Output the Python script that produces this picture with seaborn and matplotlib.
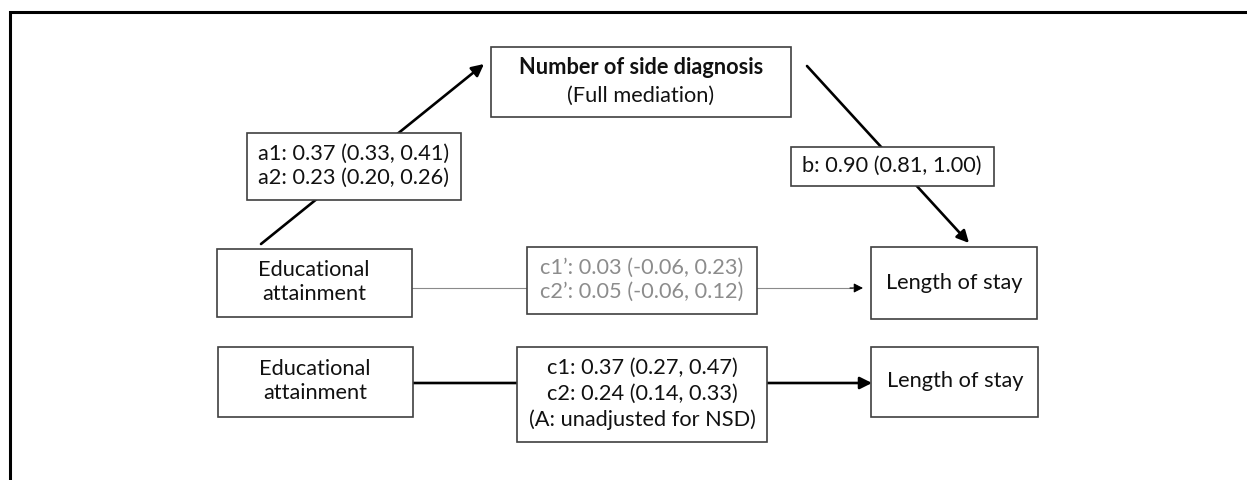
import matplotlib
matplotlib.use("Agg")
import matplotlib.pyplot as plt
from matplotlib.patches import Rectangle
import seaborn as sns

# === Данные диаграммы медиации ===
mediator_title = "Number of side diagnosis"
mediator_note = "(Full mediation)"
exposure_label = "Educational\nattainment"
outcome_label = "Length of stay"

# коэффициенты: (метка, оценка, нижняя граница, верхняя граница)
path_a = [("a1", 0.37, 0.33, 0.41), ("a2", 0.23, 0.20, 0.26)]
path_b = [("b", 0.90, 0.81, 1.00)]
path_c_direct = [("c1\u2019", 0.03, -0.06, 0.23), ("c2\u2019", 0.05, -0.06, 0.12)]
path_c_total = [("c1", 0.37, 0.27, 0.47), ("c2", 0.24, 0.14, 0.33)]
total_note = "(A: unadjusted for NSD)"


def fmt(rows):
    return "\n".join(f"{n}: {e:.2f} ({lo:.2f}, {hi:.2f})" for n, e, lo, hi in rows)


sns.set_theme(style="white")
plt.rcParams['font.family'] = ['Lato', 'DejaVu Sans']

fig = plt.figure(figsize=(12.47, 4.8), dpi=100)
ax = fig.add_axes([0, 0, 1, 1])
ax.set_xlim(0, 1247)
ax.set_ylim(480, 0)
ax.axis('off')

FS = 15.7
EDGE = '#404040'
TXT = '#111111'


def box(x0, y0, x1, y1):
    ax.add_patch(Rectangle((x0, y0), x1 - x0, y1 - y0, facecolor='white',
                           edgecolor=EDGE, lw=1.2, zorder=3))


def arrow(x0, y0, x1, y1, lw=1.9, color='black', head=12):
    ax.annotate("", xy=(x1, y1), xytext=(x0, y0), zorder=1,
                arrowprops=dict(arrowstyle=f"-|>,head_length={head/20:.2f},head_width={head/40:.2f}",
                                lw=lw, color=color, shrinkA=0, shrinkB=0))


# рамка (видны только левая и верхняя стороны)
ax.plot([10, 10, 1247], [480, 12, 12], color='black', lw=2.2, zorder=0,
        solid_joinstyle='miter')

# стрелки
arrow(261, 244, 484, 64)
arrow(807, 66, 969, 243)
ax.plot([412, 852], [288, 288], color='#8a8a8a', lw=0.8, zorder=1)
arrow(850, 288, 863, 288, lw=0.8, color='black', head=9)
arrow(413, 383, 872, 383, lw=1.9)

# блок медиатора
box(491, 47, 791, 117)
ax.text(641, 68, mediator_title, ha='center', va='center', fontsize=FS,
        fontweight='bold', color=TXT, zorder=4)
ax.text(641, 96, mediator_note, ha='center', va='center', fontsize=FS,
        color=TXT, zorder=4)

# коэффициенты a и b
box(247, 133, 461, 200)
ax.text(354, 166, fmt(path_a), ha='center', va='center', fontsize=FS,
        color=TXT, linespacing=1.25, zorder=4)
box(791, 147, 994, 186)
ax.text(892, 166, fmt(path_b), ha='center', va='center', fontsize=FS,
        color=TXT, zorder=4)

# модель со скорректированным эффектом
box(217, 249, 412, 317)
ax.text(314, 282, exposure_label, ha='center', va='center', fontsize=FS,
        color=TXT, linespacing=1.3, zorder=4)
box(527, 247, 757, 314)
ax.text(642, 280, fmt(path_c_direct), ha='center', va='center', fontsize=FS,
        color='#8c8c8c', linespacing=1.25, zorder=4)
box(871, 247, 1037, 319)
ax.text(954, 283, outcome_label, ha='center', va='center', fontsize=FS,
        color=TXT, zorder=4)

# модель с общим эффектом
box(218, 347, 413, 417)
ax.text(315, 381, exposure_label, ha='center', va='center', fontsize=FS,
        color=TXT, linespacing=1.3, zorder=4)
box(517, 347, 767, 442)
ax.text(642, 394, fmt(path_c_total) + "\n" + total_note, ha='center', va='center',
        fontsize=FS, color=TXT, linespacing=1.35, zorder=4)
box(871, 347, 1038, 417)
ax.text(955, 381, outcome_label, ha='center', va='center', fontsize=FS,
        color=TXT, zorder=4)

plt.savefig('out.png', dpi=100)
